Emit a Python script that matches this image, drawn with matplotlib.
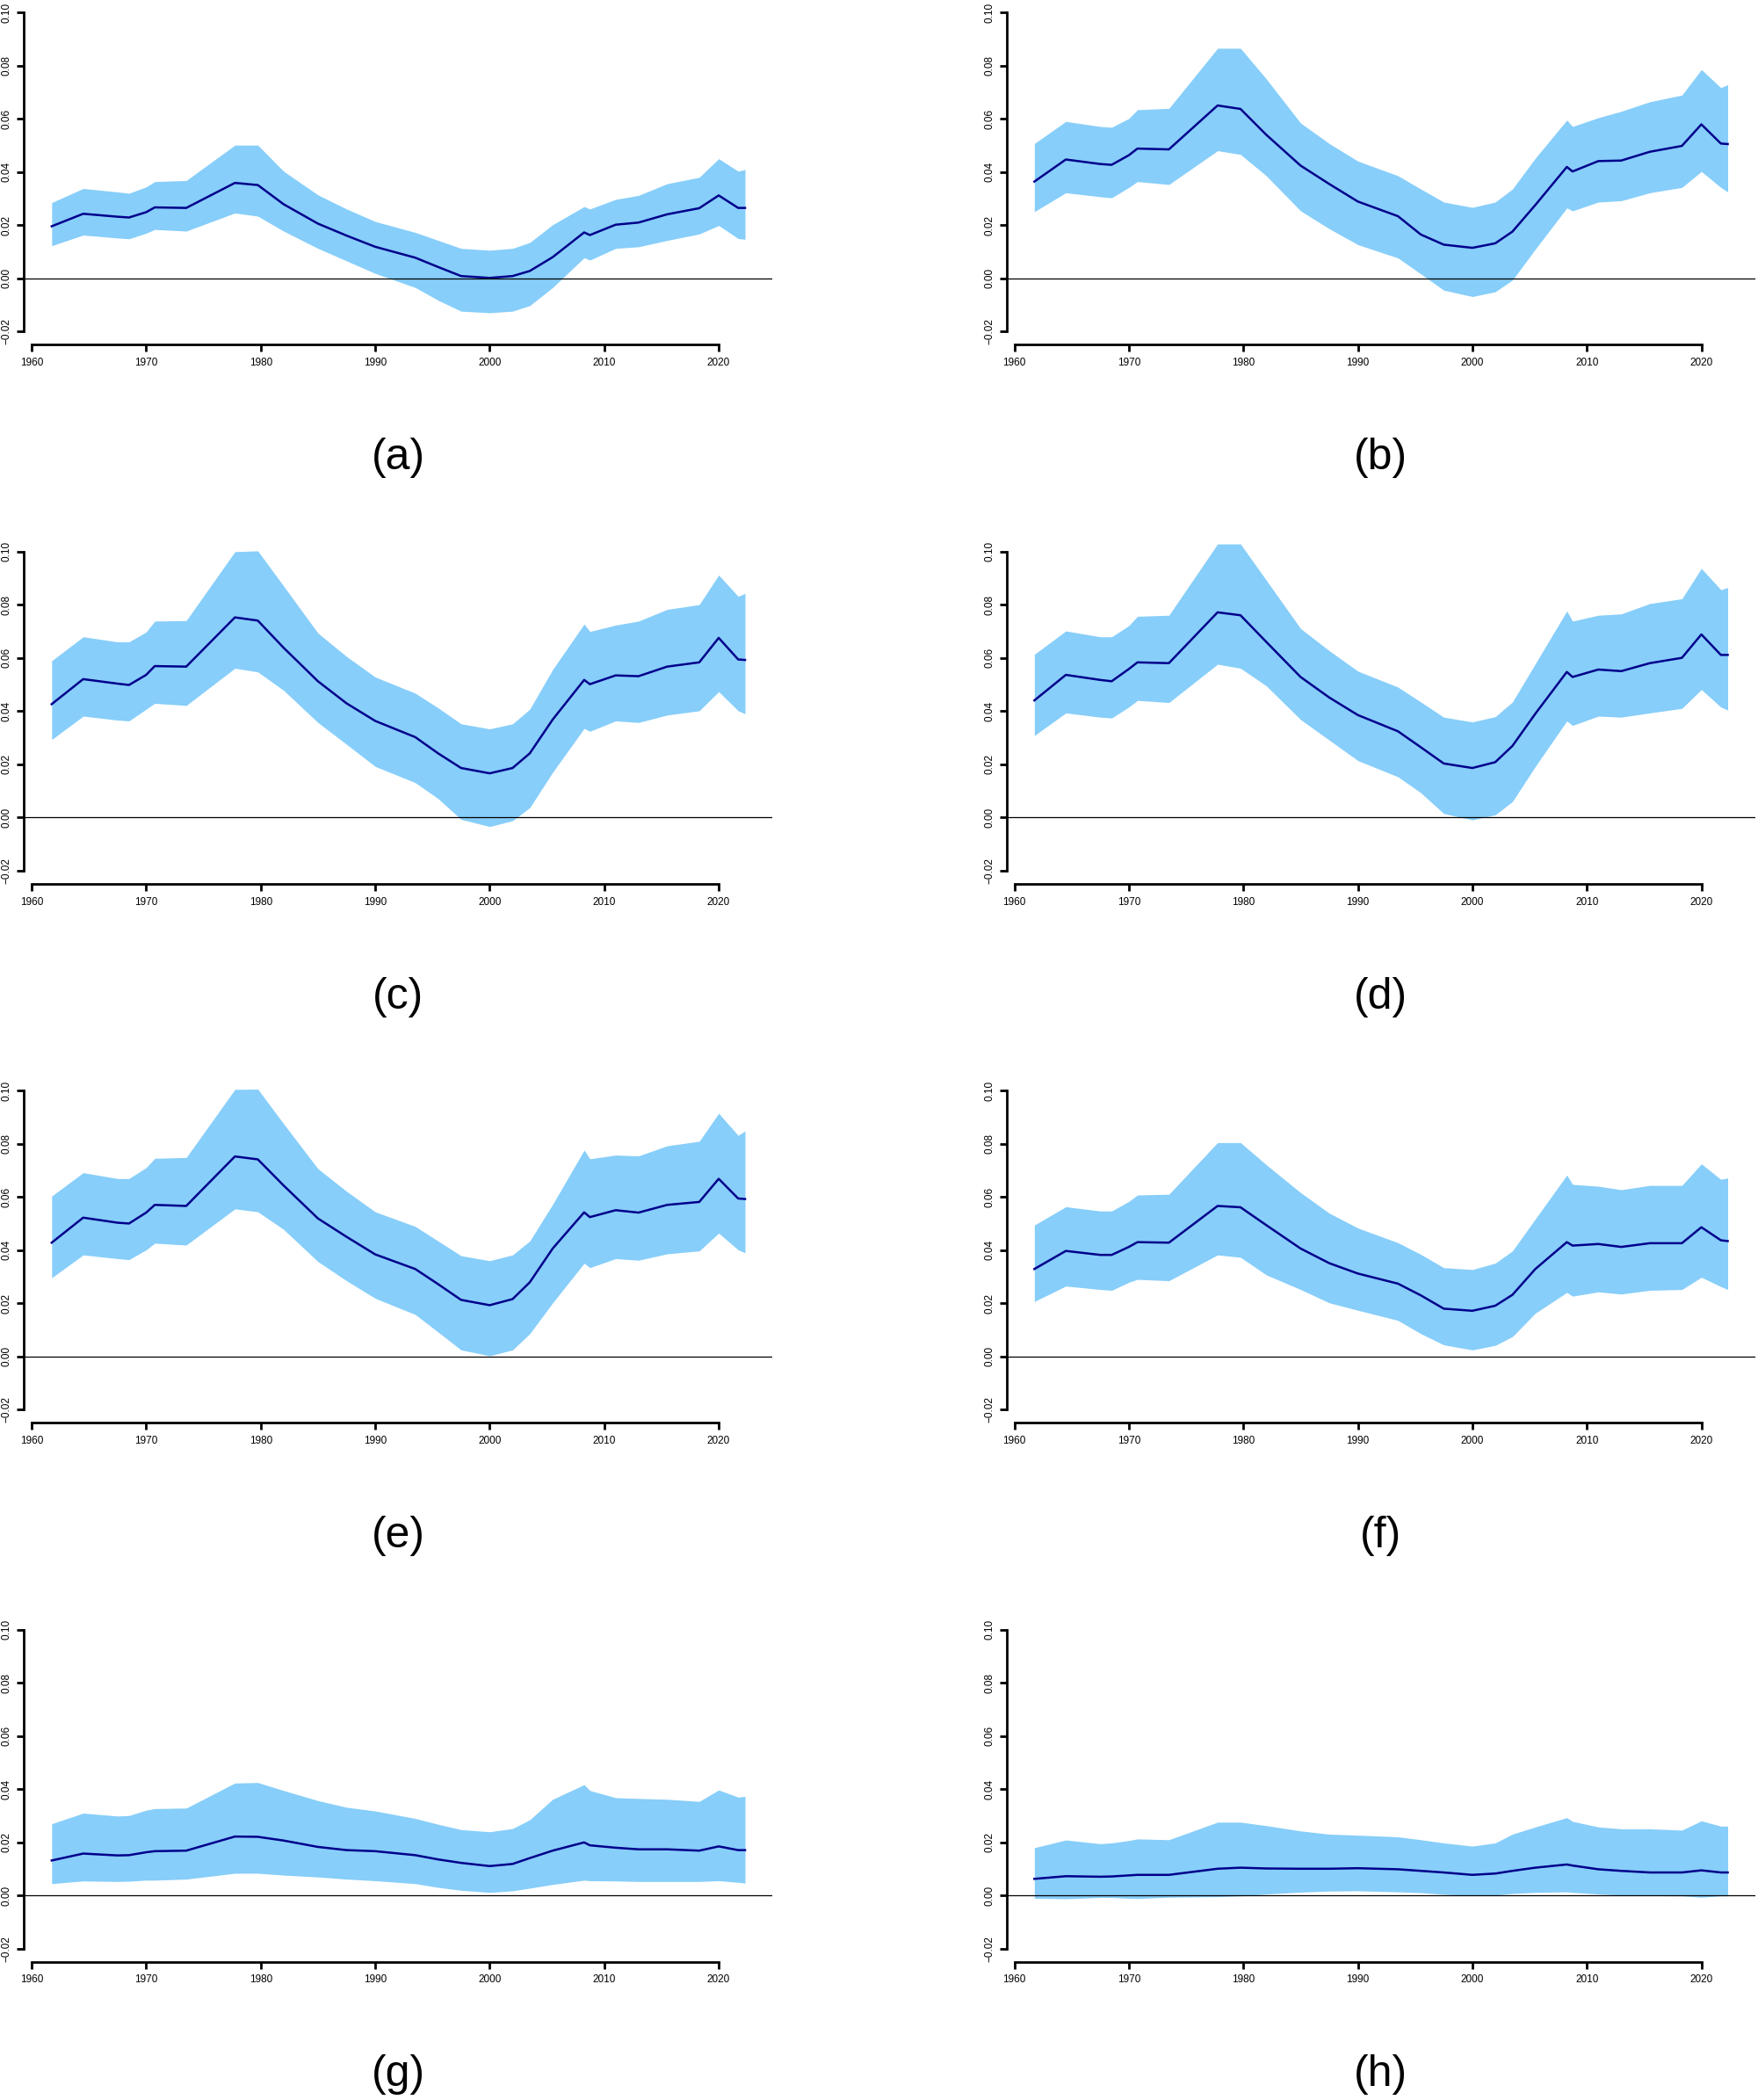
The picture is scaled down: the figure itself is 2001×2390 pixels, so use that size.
import matplotlib
matplotlib.use("Agg")
import matplotlib.pyplot as plt

plt.rcParams['font.family'] = ['Liberation Sans', 'DejaVu Sans']

# knot years (shared by all panels)
years = [1961.75, 1964.5, 1967.5, 1968.5, 1970, 1970.75, 1973.5, 1977.75, 1979.75, 1982,
         1985, 1987.5, 1990, 1993.5, 1995.5, 1997.5, 2000, 2002, 2003.5, 2005.5,
         2008.25, 2008.75, 2011, 2013, 2015.5, 2018.3, 2020, 2021.7, 2022.3]

# (a)
a_mid = [0.0196, 0.0243, 0.0232, 0.0229, 0.0249, 0.0267, 0.0265, 0.0359, 0.0351, 0.0279, 0.0206, 0.0161, 0.0119, 0.0078, 0.0043,
         0.0009, 0.0002, 0.0009, 0.0028, 0.0080, 0.0173, 0.0163, 0.0202, 0.0210, 0.0241, 0.0264, 0.0312, 0.0265, 0.0265]
a_hi = [0.0285, 0.0338, 0.0325, 0.0320, 0.0344, 0.0364, 0.0368, 0.0501, 0.0501, 0.0403, 0.0314, 0.0261, 0.0214, 0.0173, 0.0143,
        0.0113, 0.0106, 0.0113, 0.0135, 0.0202, 0.0270, 0.0261, 0.0297, 0.0312, 0.0356, 0.0380, 0.0450, 0.0403, 0.0409]
a_lo = [0.0123, 0.0163, 0.0152, 0.0149, 0.0170, 0.0184, 0.0178, 0.0246, 0.0234, 0.0178, 0.0113, 0.0066, 0.0019, -0.0034, -0.0082,
        -0.0123, -0.0129, -0.0123, -0.0102, -0.0034, 0.0078, 0.0069, 0.0113, 0.0119, 0.0143, 0.0167, 0.0199, 0.0150, 0.0147]

# (b)
b_mid = [0.0364, 0.0447, 0.0430, 0.0427, 0.0463, 0.0488, 0.0485, 0.0650, 0.0637, 0.0540, 0.0424, 0.0355, 0.0289, 0.0234, 0.0165,
         0.0127, 0.0115, 0.0132, 0.0176, 0.0276, 0.0419, 0.0402, 0.0441, 0.0443, 0.0476, 0.0498, 0.0579, 0.0507, 0.0505]
b_hi = [0.0507, 0.0590, 0.0571, 0.0568, 0.0601, 0.0634, 0.0639, 0.0865, 0.0865, 0.0750, 0.0584, 0.0507, 0.0441, 0.0386, 0.0336,
        0.0287, 0.0267, 0.0287, 0.0336, 0.0452, 0.0595, 0.0571, 0.0604, 0.0628, 0.0664, 0.0689, 0.0785, 0.0717, 0.0728]
b_lo = [0.0251, 0.0322, 0.0307, 0.0303, 0.0342, 0.0364, 0.0353, 0.0480, 0.0466, 0.0386, 0.0254, 0.0187, 0.0127, 0.0077, 0.0017,
        -0.0044, -0.0068, -0.0050, -0.0006, 0.0110, 0.0265, 0.0254, 0.0287, 0.0292, 0.0322, 0.0342, 0.0402, 0.0342, 0.0325]

# (c)
c_mid = [0.0426, 0.0520, 0.0503, 0.0498, 0.0536, 0.0569, 0.0567, 0.0752, 0.0740, 0.0638, 0.0512, 0.0429, 0.0363, 0.0302, 0.0241,
         0.0186, 0.0166, 0.0186, 0.0241, 0.0368, 0.0517, 0.0501, 0.0534, 0.0531, 0.0567, 0.0583, 0.0675, 0.0594, 0.0592]
c_hi = [0.0589, 0.0679, 0.0660, 0.0660, 0.0697, 0.0738, 0.0740, 0.0999, 0.1002, 0.0870, 0.0693, 0.0605, 0.0528, 0.0467, 0.0412,
        0.0352, 0.0333, 0.0352, 0.0407, 0.0556, 0.0727, 0.0699, 0.0723, 0.0738, 0.0782, 0.0800, 0.0911, 0.0831, 0.0842]
c_lo = [0.0293, 0.0381, 0.0366, 0.0363, 0.0407, 0.0429, 0.0421, 0.0561, 0.0547, 0.0478, 0.0357, 0.0275, 0.0192, 0.0131, 0.0071,
        -0.0007, -0.0034, -0.0012, 0.0037, 0.0170, 0.0335, 0.0324, 0.0363, 0.0357, 0.0385, 0.0401, 0.0473, 0.0401, 0.0390]

# (d)
d_mid = [0.0440, 0.0536, 0.0517, 0.0512, 0.0558, 0.0583, 0.0580, 0.0771, 0.0760, 0.0660, 0.0528, 0.0451, 0.0385, 0.0324, 0.0264,
         0.0203, 0.0186, 0.0208, 0.0269, 0.0390, 0.0547, 0.0528, 0.0556, 0.0550, 0.0580, 0.0600, 0.0688, 0.0611, 0.0611]
d_hi = [0.0613, 0.0701, 0.0679, 0.0679, 0.0721, 0.0756, 0.0760, 0.1028, 0.1028, 0.0892, 0.0710, 0.0627, 0.0550, 0.0490, 0.0434,
        0.0377, 0.0359, 0.0379, 0.0434, 0.0578, 0.0776, 0.0738, 0.0760, 0.0765, 0.0804, 0.0822, 0.0936, 0.0856, 0.0864]
d_lo = [0.0308, 0.0393, 0.0377, 0.0374, 0.0415, 0.0440, 0.0432, 0.0576, 0.0561, 0.0495, 0.0368, 0.0291, 0.0214, 0.0153, 0.0093,
        0.0015, -0.0009, 0.0010, 0.0060, 0.0192, 0.0363, 0.0346, 0.0381, 0.0377, 0.0393, 0.0410, 0.0481, 0.0415, 0.0404]

# (e)
e_mid = [0.0428, 0.0522, 0.0503, 0.0500, 0.0541, 0.0570, 0.0566, 0.0752, 0.0741, 0.0643, 0.0519, 0.0450, 0.0384, 0.0329, 0.0272,
         0.0213, 0.0193, 0.0216, 0.0279, 0.0406, 0.0542, 0.0524, 0.0550, 0.0541, 0.0570, 0.0581, 0.0668, 0.0594, 0.0592]
e_hi = [0.0603, 0.0691, 0.0669, 0.0669, 0.0710, 0.0745, 0.0748, 0.1004, 0.1005, 0.0875, 0.0706, 0.0621, 0.0544, 0.0489, 0.0434,
        0.0379, 0.0360, 0.0382, 0.0434, 0.0572, 0.0776, 0.0743, 0.0757, 0.0754, 0.0792, 0.0809, 0.0914, 0.0831, 0.0848]
e_lo = [0.0296, 0.0382, 0.0368, 0.0364, 0.0401, 0.0426, 0.0419, 0.0555, 0.0544, 0.0478, 0.0357, 0.0285, 0.0219, 0.0158, 0.0092,
        0.0025, 0.0003, 0.0025, 0.0086, 0.0202, 0.0351, 0.0334, 0.0368, 0.0362, 0.0386, 0.0397, 0.0464, 0.0401, 0.0390]

# (f)
f_mid = [0.0329, 0.0397, 0.0382, 0.0382, 0.0412, 0.0430, 0.0428, 0.0566, 0.0561, 0.0494, 0.0406, 0.0351, 0.0312, 0.0274, 0.0230,
         0.0180, 0.0172, 0.0191, 0.0232, 0.0329, 0.0430, 0.0417, 0.0423, 0.0412, 0.0426, 0.0426, 0.0486, 0.0437, 0.0434]
f_hi = [0.0494, 0.0563, 0.0547, 0.0547, 0.0583, 0.0607, 0.0610, 0.0804, 0.0804, 0.0721, 0.0616, 0.0539, 0.0483, 0.0428, 0.0384,
        0.0334, 0.0327, 0.0351, 0.0397, 0.0517, 0.0682, 0.0647, 0.0640, 0.0627, 0.0643, 0.0643, 0.0724, 0.0666, 0.0671]
f_lo = [0.0207, 0.0265, 0.0252, 0.0249, 0.0279, 0.0290, 0.0285, 0.0382, 0.0373, 0.0307, 0.0252, 0.0202, 0.0174, 0.0136, 0.0086,
        0.0044, 0.0025, 0.0042, 0.0075, 0.0163, 0.0241, 0.0227, 0.0243, 0.0235, 0.0249, 0.0252, 0.0298, 0.0263, 0.0252]

# (g)
g_mid = [0.0132, 0.0158, 0.0151, 0.0152, 0.0163, 0.0167, 0.0169, 0.0222, 0.0221, 0.0207, 0.0183, 0.0171, 0.0167, 0.0152, 0.0136,
         0.0123, 0.0111, 0.0119, 0.0141, 0.0169, 0.0200, 0.0189, 0.0180, 0.0174, 0.0174, 0.0169, 0.0185, 0.0171, 0.0171]
g_hi = [0.0270, 0.0310, 0.0299, 0.0301, 0.0321, 0.0327, 0.0329, 0.0423, 0.0425, 0.0395, 0.0357, 0.0332, 0.0318, 0.0290, 0.0268,
        0.0248, 0.0240, 0.0252, 0.0285, 0.0362, 0.0417, 0.0395, 0.0368, 0.0365, 0.0362, 0.0354, 0.0397, 0.0370, 0.0373]
g_lo = [0.0045, 0.0055, 0.0053, 0.0054, 0.0058, 0.0058, 0.0062, 0.0084, 0.0084, 0.0077, 0.0070, 0.0062, 0.0056, 0.0045, 0.0031,
        0.0020, 0.0012, 0.0018, 0.0028, 0.0042, 0.0058, 0.0056, 0.0055, 0.0053, 0.0053, 0.0053, 0.0056, 0.0050, 0.0047]

# (h)
h_mid = [0.0063, 0.0073, 0.0071, 0.0072, 0.0076, 0.0078, 0.0078, 0.0101, 0.0105, 0.0102, 0.0101, 0.0101, 0.0103, 0.0099, 0.0093,
         0.0087, 0.0078, 0.0083, 0.0093, 0.0105, 0.0117, 0.0113, 0.0099, 0.0093, 0.0087, 0.0087, 0.0095, 0.0087, 0.0087]
h_hi = [0.0180, 0.0209, 0.0195, 0.0198, 0.0207, 0.0213, 0.0210, 0.0276, 0.0276, 0.0263, 0.0243, 0.0231, 0.0227, 0.0221, 0.0210,
        0.0198, 0.0186, 0.0198, 0.0231, 0.0258, 0.0293, 0.0279, 0.0258, 0.0251, 0.0251, 0.0246, 0.0281, 0.0261, 0.0261]
h_lo = [-0.0010, -0.0012, -0.0007, -0.0007, -0.0010, -0.0011, -0.0006, -0.0004, -0.0001, 0.0006, 0.0013, 0.0017, 0.0018, 0.0014, 0.0011,
        0.0005, 0.0000, 0.0002, 0.0008, 0.0012, 0.0014, 0.0012, 0.0006, 0.0002, 0.0000, -0.0001, -0.0006, -0.0001, -0.0001]

labels = ['(a)', '(b)', '(c)', '(d)', '(e)', '(f)', '(g)', '(h)']
mids = [a_mid, b_mid, c_mid, d_mid, e_mid, f_mid, g_mid, h_mid]
his = [a_hi, b_hi, c_hi, d_hi, e_hi, f_hi, g_hi, h_hi]
los = [a_lo, b_lo, c_lo, d_lo, e_lo, f_lo, g_lo, h_lo]

xticks = [1960, 1970, 1980, 1990, 2000, 2010, 2020]
yticks = [-0.02, 0.00, 0.02, 0.04, 0.06, 0.08, 0.10]

W, H = 2001, 2390
fig = plt.figure(figsize=(W / 100, H / 100), dpi=100)

col_left = [27.3, 1145.8]
pw, ph = 852.0, 392.5
row_step = 613.5

for k in range(8):
    r, c = k // 2, k % 2
    top = -0.5 + row_step * r
    ax = fig.add_axes([col_left[c] / W, 1 - (top + ph) / H, pw / W, ph / H])
    ax.set_facecolor('none')

    ax.fill_between(years, los[k], his[k], color='#87CEFA', lw=0)
    ax.plot(years, mids[k], color='#00008B', lw=1.8)
    ax.axhline(0, color='black', lw=0.9)

    ax.set_xlim(1959.33, 2024.7)
    ax.set_ylim(-0.0248, 0.1048)

    for s in ['top', 'right']:
        ax.spines[s].set_visible(False)
    ax.spines['left'].set_bounds(-0.02, 0.10)
    ax.spines['bottom'].set_bounds(1960, 2020)
    ax.spines['left'].set_linewidth(2.0)
    ax.spines['bottom'].set_linewidth(2.0)

    ax.set_xticks(xticks)
    ax.set_xticklabels([str(t) for t in xticks])
    ax.set_yticks(yticks)
    ax.set_yticklabels([f'{v:.2f}'.replace('-', '\u2212') for v in yticks],
                       rotation=90, va='center')
    ax.tick_params(axis='both', length=5.8, width=2.0, labelsize=8.5, direction='out')
    ax.tick_params(axis='x', pad=5)
    ax.tick_params(axis='y', pad=4)

    cx = (col_left[c] + pw / 2) / W
    fig.text(cx, 1 - (521 + row_step * r) / H, labels[k],
             ha='center', va='center', fontsize=36)

fig.savefig('out.png', dpi=100)
